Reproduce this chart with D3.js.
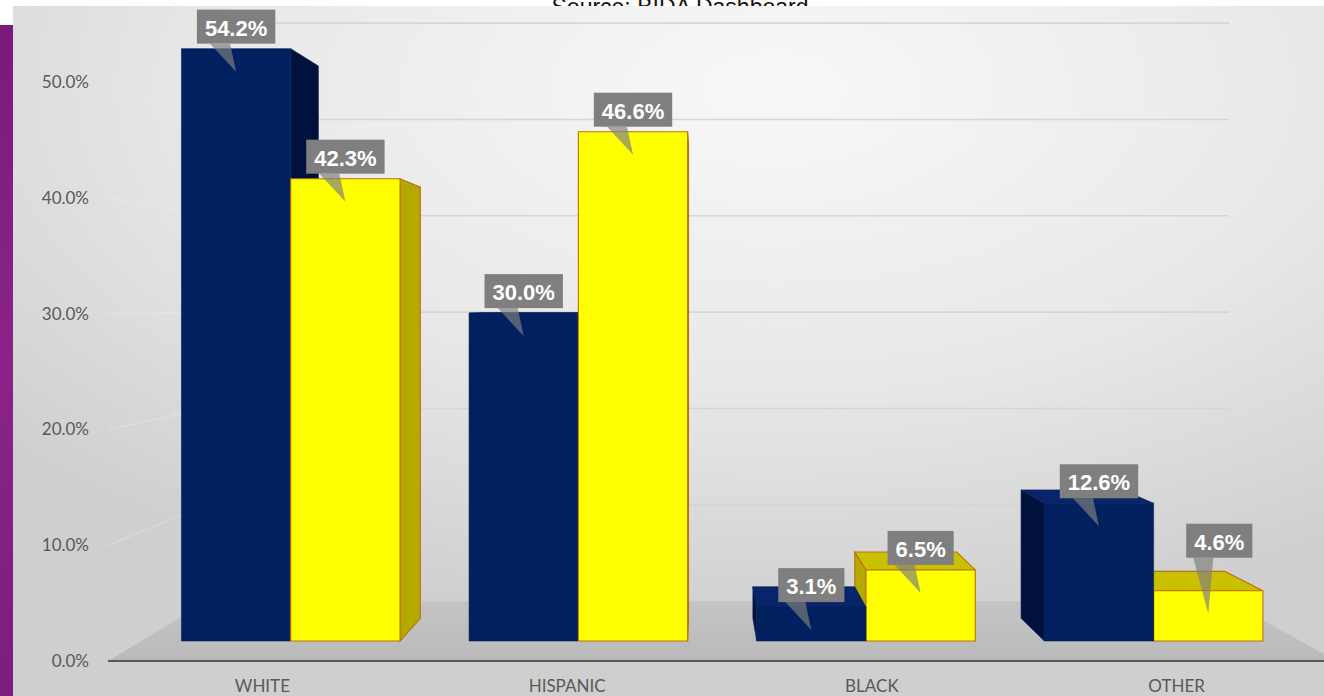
<!DOCTYPE html>
<html>
<head>
<meta charset="utf-8">
<script src="https://cdn.jsdelivr.net/npm/d3@7"></script>
<style>
  html, body { margin: 0; padding: 0; background: #ffffff; }
  svg { display: block; }
</style>
</head>
<body>
<svg id="chart" width="1324" height="696"></svg>
<script>
// ---------------- data ----------------
const categories = ["WHITE", "HISPANIC", "BLACK", "OTHER"];
const seriesKeys = ["navy", "yellow"];
const navyValues = [54.2, 30.0, 3.1, 12.6];
const yellowValues = [42.3, 46.6, 6.5, 4.6];
const yTickValues = [0, 10, 20, 30, 40, 50];
const gridValues = [0, 10, 20, 30, 40, 50, 60];
const titleText = "Source: BIDA Dashboard";

// ---------------- layout ----------------
const W = 1324, H = 696;
const svg = d3.select("#chart");
const defs = svg.append("defs");

// perspective: vanishing point and depth factors
const vx = 700, vy = 305;
const tFront = 0.9438;   // bar front faces
const tBack = 0.88;      // bar back faces
const tWall = 0.832;     // back wall
const proj = (X, Y, t) => [vx + (X - vx) * t, vy + (Y - vy) * t];

const x = d3.scaleBand().domain(categories).range([114, 1333]).paddingInner(0.24).paddingOuter(0.12);
const xs = d3.scaleBand().domain(seriesKeys).range([0, x.bandwidth()]).padding(0);
const y = d3.scaleLinear().domain([0, 60]).range([661, 661 - 60 * 11.58]);

const floorX0 = 108, floorX1 = 1336;

// ---------------- background ----------------
const bg = defs.append("radialGradient").attr("id", "bgGrad")
  .attr("cx", "58%").attr("cy", "12%").attr("r", "78%");
bg.append("stop").attr("offset", "0%").attr("stop-color", "#f8f8f8");
bg.append("stop").attr("offset", "55%").attr("stop-color", "#e8e8e8");
bg.append("stop").attr("offset", "100%").attr("stop-color", "#cfcfcf");

const pg = defs.append("linearGradient").attr("id", "purpleGrad")
  .attr("x1", 0).attr("y1", 0).attr("x2", 0).attr("y2", 1);
pg.append("stop").attr("offset", "0%").attr("stop-color", "#7a1a7b");
pg.append("stop").attr("offset", "50%").attr("stop-color", "#8a2389");
pg.append("stop").attr("offset", "100%").attr("stop-color", "#7c1d7d");

svg.append("rect").attr("x", 0).attr("y", 0).attr("width", W).attr("height", H).attr("fill", "#ffffff");

// title (partly hidden behind the chart area, as in the picture)
svg.append("text").attr("x", 680).attr("y", 15)
  .attr("text-anchor", "middle")
  .attr("font-family", "Liberation Sans, Arial, sans-serif")
  .attr("font-size", 23).attr("fill", "#111")
  .text(titleText);

svg.append("rect").attr("x", 0).attr("y", 25).attr("width", 13).attr("height", H - 25).attr("fill", "url(#purpleGrad)");
svg.append("rect").attr("x", 13).attr("y", 6).attr("width", W - 13).attr("height", H - 6).attr("fill", "url(#bgGrad)");

const plot = svg.append("g");

// ---------------- walls & gridlines ----------------
const line = d3.line();
// left wall gridlines (very faint)
plot.append("g").selectAll("path").data(gridValues.filter(v => v > 0)).join("path")
  .attr("d", v => line([proj(floorX0, y(v), 1), proj(floorX0, y(v), tWall)]))
  .attr("stroke", "#eeeeee").attr("stroke-width", 1).attr("fill", "none").attr("opacity", 0.5);
// back wall gridlines
plot.append("g").selectAll("path").data(gridValues.filter(v => v > 0)).join("path")
  .attr("d", v => line([proj(floorX0, y(v), tWall), proj(floorX1, y(v), tWall)]))
  .attr("stroke", "#d6d6d6").attr("stroke-width", 1.6).attr("fill", "none");

// floor
const fg = defs.append("linearGradient").attr("id", "floorGrad")
  .attr("x1", 0).attr("y1", 0).attr("x2", 0).attr("y2", 1);
fg.append("stop").attr("offset", "0%").attr("stop-color", "#c4c4c4");
fg.append("stop").attr("offset", "100%").attr("stop-color", "#bababa");
plot.append("path")
  .attr("d", line([proj(floorX0, y(0), 1), proj(floorX1, y(0), 1), proj(floorX1, y(0), tWall), proj(floorX0, y(0), tWall)]) + "Z")
  .attr("fill", "url(#floorGrad)");
// front axis line
plot.append("path")
  .attr("d", line([[floorX0, y(0)], [W + 20, y(0)]]))
  .attr("stroke", "#595959").attr("stroke-width", 2.2).attr("fill", "none");

// ---------------- bars ----------------
const styles = {
  navy:   { front: "#002060", side: "#00123c", top: "#08246a", stroke: "#0a2058", sw: 0.6 },
  yellow: { front: "#ffff00", side: "#b3a900", top: "#c9c000", stroke: "#c0700c", sw: 1.1 }
};

const bars = [];
categories.forEach((c, i) => {
  [["navy", navyValues[i]], ["yellow", yellowValues[i]]].forEach(([k, v]) => {
    const X0 = x(c) + xs(k), X1 = X0 + xs.bandwidth();
    bars.push({ cat: c, key: k, value: v, X0, X1, Xc: (X0 + X1) / 2 });
  });
});
bars.sort((a, b) => Math.abs(b.Xc - vx) - Math.abs(a.Xc - vx));

const barG = plot.append("g");
bars.forEach(b => {
  const st = styles[b.key];
  const Yt = y(b.value), Yb = y(0);
  const g = barG.append("g");
  const poly = pts => line(pts) + "Z";
  if (b.X1 < vx) {
    g.append("path").attr("d", poly([proj(b.X1, Yt, tFront), proj(b.X1, Yt, tBack), proj(b.X1, Yb, tBack), proj(b.X1, Yb, tFront)]))
      .attr("fill", st.side).attr("stroke", st.stroke).attr("stroke-width", st.sw);
  }
  if (b.X0 > vx) {
    g.append("path").attr("d", poly([proj(b.X0, Yt, tFront), proj(b.X0, Yt, tBack), proj(b.X0, Yb, tBack), proj(b.X0, Yb, tFront)]))
      .attr("fill", st.side).attr("stroke", st.stroke).attr("stroke-width", st.sw);
  }
  if (Yt > vy) {
    g.append("path").attr("d", poly([proj(b.X0, Yt, tFront), proj(b.X1, Yt, tFront), proj(b.X1, Yt, tBack), proj(b.X0, Yt, tBack)]))
      .attr("fill", st.top).attr("stroke", st.stroke).attr("stroke-width", st.sw);
  }
  g.append("path").attr("d", poly([proj(b.X0, Yt, tFront), proj(b.X1, Yt, tFront), proj(b.X1, Yb, tFront), proj(b.X0, Yb, tFront)]))
    .attr("fill", st.front).attr("stroke", st.stroke).attr("stroke-width", st.sw);
});

// ---------------- data labels ----------------
const labelNudge = { "OTHER|yellow": [11, -28] };
const labG = plot.append("g");
bars.forEach(b => {
  const [tipX, topY] = proj(b.Xc, y(b.value), tFront);
  const nudge = labelNudge[b.cat + "|" + b.key] || [0, 0];
  const bx = tipX + nudge[0];
  const bottom = topY - 5 + nudge[1];
  const g = labG.append("g");
  g.append("path")
    .attr("d", line([[bx - 26, bottom], [bx - 6, bottom], [tipX, topY + 23]]) + "Z")
    .attr("fill", "#7f7f7f").attr("opacity", 0.68);
  const box = g.append("rect");
  const txt = g.append("text")
    .attr("x", bx).attr("y", bottom - 8)
    .attr("text-anchor", "middle")
    .attr("font-family", "Liberation Sans, Arial, sans-serif")
    .attr("font-weight", "bold").attr("font-size", 22)
    .attr("fill", "#ffffff")
    .text(d3.format(".1f")(b.value) + "%");
  const w = txt.node().getComputedTextLength() + 16;
  box.attr("x", bx - w / 2).attr("y", bottom - 34).attr("width", w).attr("height", 34)
    .attr("fill", "#7f7f7f");
});

// ---------------- axes text ----------------
const yAxis = d3.axisLeft(y).tickValues(yTickValues).tickFormat(d => d3.format(".1f")(d) + "%").tickSize(0).tickPadding(0);
const yAx = svg.append("g").attr("transform", "translate(89,0)").call(yAxis);
yAx.select(".domain").remove();
yAx.selectAll("text").attr("font-family", "Lato, 'Open Sans', sans-serif").attr("font-size", 17).attr("fill", "#595959");

const xAxis = d3.axisBottom(x).tickSize(0).tickPadding(0);
const xAx = svg.append("g").attr("transform", "translate(-4,680)").call(xAxis);
xAx.select(".domain").remove();
xAx.selectAll("text").attr("font-family", "Lato, 'Open Sans', sans-serif").attr("font-size", 17).attr("fill", "#595959");
</script>
</body>
</html>
